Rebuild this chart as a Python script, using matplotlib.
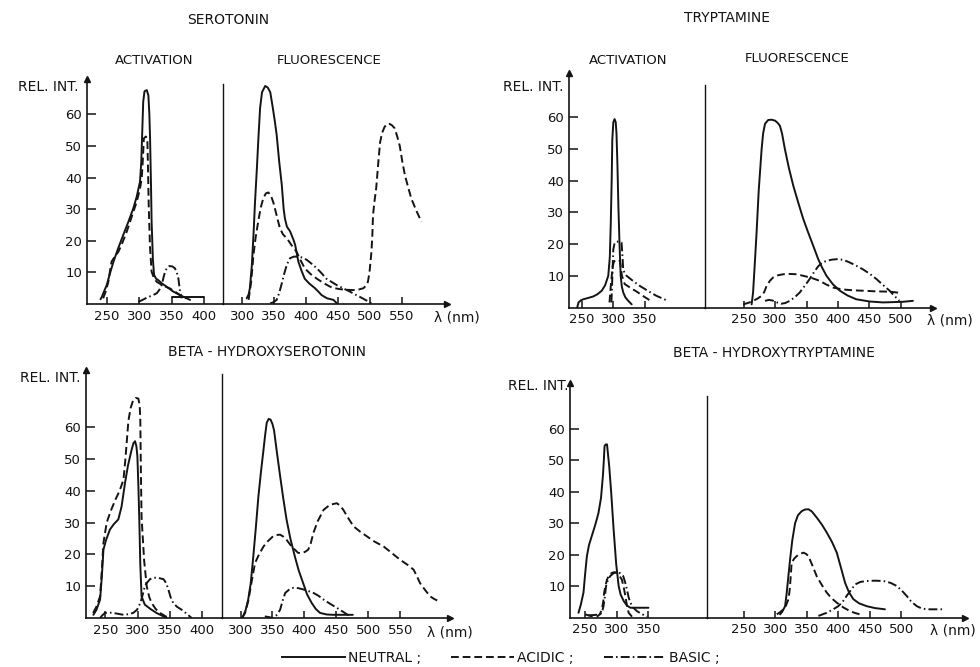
import matplotlib

matplotlib.use("Agg")
import matplotlib.pyplot as plt
from matplotlib.lines import Line2D

W, H = 980, 667
INK = "#141414"

# ---- data: (wavelength nm, relative intensity) ----
SER_ACT_NEUTRAL = [(240, 1.5), (242, 2.3), (249.5, 6), (255, 10), (260, 13.4), (267, 17.5),
                   (275, 21.8), (283, 26), (290.7, 30.3), (296, 34), (301, 38.7), (303, 45),
                   (305, 57.7), (306, 64), (308, 67.3), (311.5, 67.7), (314, 66), (315.5, 60),
                   (316.6, 52.4), (318, 38), (319, 26), (321, 14), (322.8, 9.2), (326, 8),
                   (329, 7.6), (335, 6.5), (342, 5.5), (352, 4), (363, 2.8), (370, 2.1),
                   (378.5, 1.3)]
SER_ACT_NEUTRAL_TAIL = [(350, 2.2), (400, 2.2)]
SER_ACT_ACIDIC = [(244, 1.8), (248, 4), (252, 7), (255, 11), (257, 13.4), (262, 15),
                  (267.5, 16.5), (274, 19.5), (280.5, 22.9), (288, 27.5), (296, 32.4),
                  (301, 36.5), (303.7, 39.8), (305.5, 46), (307, 52.4), (310, 53), (312.4, 52.4),
                  (313.5, 42), (314.5, 31.3), (316.5, 18), (319, 10.2), (323, 8), (327, 7),
                  (337, 5.8), (347.5, 4.9), (356, 3.8), (363, 2.8), (373, 1.8)]
SER_ACT_BASIC = [(298.5, 0.7), (305, 1.3), (311.5, 2), (320, 2.7), (327, 3.4), (331, 4.5),
                 (334.7, 6), (337.5, 8.5), (339.8, 10.2), (343, 11.5), (346.4, 12), (351, 11.9),
                 (355, 11.3), (358, 10), (360.4, 8.1), (362, 5.5), (363, 3.9), (365.6, 1.8)]
SER_FL_NEUTRAL = [(307, 1.8), (310, 3), (312, 5), (315, 12), (317.7, 22), (320, 32), (323, 43),
                  (325.5, 53), (328, 62), (331, 67), (336, 69), (340, 68.5), (344, 67),
                  (348, 62), (351, 58), (354, 53.5), (358, 45), (362, 37.7), (365, 30),
                  (367, 27), (370, 24.5), (375, 23), (380, 20.5), (383, 18.7), (386, 15.5),
                  (388, 13.4), (393, 10.5), (398, 8), (405, 6.5), (414, 5), (419, 4),
                  (424.5, 2.8), (433, 1.8), (443, 1.3), (448, 0.3)]
SER_FL_ACIDIC = [(310, 1.3), (314, 7), (317.6, 15.5), (321, 21), (325, 26), (329, 30.5),
                 (333, 33.4), (337, 35), (341, 35.3), (345, 34.3), (349, 32), (354, 28),
                 (359, 24), (364, 22), (370, 20.8), (377, 18.7), (385, 16.6), (391, 14),
                 (398, 11.3), (407, 9.5), (417, 8), (427, 6.7), (437.5, 5.5), (445, 5),
                 (453, 4.7), (464, 4.5), (474, 4.4), (483, 4.6), (490, 5), (494, 5.8), (497, 7),
                 (499.5, 10), (502.6, 16.6), (504, 22), (505, 28), (507, 32), (510, 36.6),
                 (513, 44), (516, 51), (519, 54), (523, 56), (527, 57), (531, 57), (535, 56.5),
                 (539, 55.6), (543, 53), (547, 50), (551, 45), (555, 40.8), (560, 37),
                 (565, 33.4), (573, 29.5), (581, 26)]
SER_FL_BASIC = [(344, 0.2), (349, 0.6), (354, 1.3), (358, 3.5), (362, 6.5), (365, 9),
                (370, 12.5), (375, 14.5), (381, 15), (388, 15), (394, 14.7), (401, 14),
                (409, 12.7), (417, 11.3), (425, 9.6), (432, 8), (440, 7), (448, 6), (458, 5),
                (469, 3.9), (477, 3), (484, 2.3), (494, 1.2), (503, 0.2)]

TRY_ACT_NEUTRAL = [(243, 0), (245, 1.6), (249, 2.3), (252.7, 2.6), (260, 3), (268.5, 3.5),
                   (275, 4.2), (281.7, 5.3), (287, 7), (292, 10), (294.5, 16), (296, 26.8),
                   (297.4, 40), (298.4, 53), (300, 58.5), (302, 59.5), (303.8, 58.5), (305, 55),
                   (306.5, 45), (308, 32), (309.8, 20), (311.6, 10), (313.5, 6.5), (315.8, 4.7),
                   (319, 3.2), (323.6, 2.1), (329, 1)]
TRY_ACT_ACIDIC = [(294, 1.6), (296, 6.8), (299, 13), (301, 14.5), (304, 15), (308, 15),
                  (310.5, 14.7), (312, 12.5), (313.6, 10), (318, 7.4), (327, 6.2), (337, 5),
                  (348, 3.5), (359, 2.1)]
TRY_ACT_BASIC = [(297, 1.6), (298.5, 10), (300, 18.4), (302, 20.3), (305, 20.8), (309, 20.8),
                 (313, 20.5), (314.5, 16), (315.6, 12), (318, 10.8), (321, 10), (331, 8.4),
                 (342, 6.8), (355, 5.2), (368, 3.7), (377, 2.9), (386, 2.1)]
TRY_FL_NEUTRAL = [(262.7, 1), (265, 4.7), (267.5, 13), (270.6, 23.7), (274, 37), (278.6, 50),
                  (281, 55), (284, 58), (289, 59.2), (294.4, 59.3), (300, 59), (304, 58.3),
                  (307.6, 57.4), (311, 55), (315.6, 50), (322, 44), (329, 38.4), (337, 33),
                  (344.7, 28), (352, 24), (360.6, 19.5), (368.5, 15.3), (375, 12.5),
                  (381.7, 10), (392, 7.3), (403, 5.3), (415, 3.8), (429, 2.6), (450, 1.9),
                  (471.7, 1.6), (503, 1.8), (519, 2.1)]
TRY_FL_ACIDIC = [(249.5, 1), (258, 1.5), (265, 2.1), (272, 2.8), (278.6, 3.7), (283, 5),
                 (286.5, 6.8), (292, 8.5), (297, 9.5), (305, 10.2), (313, 10.5), (323, 10.6),
                 (334, 10.5), (345, 10), (355, 9.5), (363, 9), (371, 8.4), (381, 7.3),
                 (392, 6.3), (402, 5.9), (413, 5.6), (427, 5.4), (440, 5.3), (460, 5.1),
                 (482, 5), (495.5, 4.7)]
TRY_FL_BASIC = [(284, 2.1), (290, 2.4), (296, 2.2), (303, 1.6), (310, 1.2), (316, 1.4),
                (323.5, 2.1), (331, 3.2), (339, 4.7), (347, 6.8), (355, 9), (362, 11.2),
                (368.5, 13), (375, 14.2), (381.7, 14.7), (390, 15.1), (400, 15.3), (409, 15),
                (418.8, 14.2), (429, 13.2), (440, 12), (450, 10.7), (461, 9), (471, 7.2),
                (482, 5.3), (490, 3.6), (497.6, 2.1)]

BHS_ACT_NEUTRAL = [(231.4, 1), (236, 2.5), (241.8, 5.8), (244.5, 13), (247, 21.5), (251, 24.5),
                   (257, 27.8), (263, 29.5), (270, 31), (275, 35), (280.4, 42.5), (285, 48),
                   (290.7, 53), (293.5, 55), (295.9, 55.6), (298, 54), (299.5, 50.9), (301, 42),
                   (302.6, 30), (304, 17), (306, 6.8), (311, 4.2), (320, 2.8), (329, 1.6),
                   (337, 0.8), (345, 0)]
BHS_ACT_ACIDIC = [(231, 1.6), (236, 3.5), (241.8, 6.8), (244.5, 15), (247, 23.6), (252, 30),
                  (258, 33.5), (265, 37), (272, 40), (278, 43.5), (281, 50), (285.6, 62),
                  (289, 66), (293, 68.5), (297, 69.2), (301, 69), (303, 67), (304, 63),
                  (305, 45), (306, 31.6), (310, 18), (314, 9.9), (318, 6.5), (321.6, 4.7),
                  (328, 2.8), (334.5, 1.6), (347.4, 0)]
BHS_ACT_BASIC = [(241.8, 0), (245, 0.8), (249.5, 1.6), (256, 1.7), (262, 1.6), (270, 1.3),
                 (278, 1), (286, 1.2), (293, 1.6), (299, 2.6), (304, 4.7), (308, 7.5),
                 (311, 10), (314, 11), (319, 12.2), (324, 12.7), (332, 12.6), (340, 12.2),
                 (344, 11), (347.4, 9), (351, 6.5), (355, 4.7), (361, 3.5), (368, 2.6),
                 (376, 1.3), (383.5, 0)]
BHS_FL_NEUTRAL = [(303, 0), (308, 2.5), (312, 5.8), (316, 11), (320, 19.4), (324, 28.5),
                  (328, 38.3), (332, 46), (336, 53), (338.5, 57.5), (341, 61.4), (344, 62.6),
                  (347, 62.4), (350, 61), (352.5, 59), (357, 52), (362, 44.6), (367, 37.5),
                  (372, 31), (378, 25), (385, 19.4), (391, 15), (398, 11), (404, 7.5),
                  (411.5, 4.7), (418, 2.8), (424.5, 1.6), (435, 1.1), (445, 1), (475.8, 1)]
BHS_FL_ACIDIC = [(302, 0), (307, 1.5), (312, 5.3), (317, 11), (322.7, 17.3), (329, 20),
                 (336, 22.5), (343, 24.2), (351, 25.7), (356, 26.1), (362, 26.2), (367, 25.6),
                 (372, 24.6), (378, 23), (385, 21.5), (390, 20.5), (396, 20.4), (401, 20.8),
                 (406, 21.5), (410, 23.5), (414, 26.7), (421, 30.5), (430, 34), (440, 35.6),
                 (450.7, 36.1), (456, 35.3), (461, 34), (469, 31.3), (477, 28.8), (487, 27.2),
                 (497.7, 25.7), (510, 24), (524, 22.5), (537, 20.4), (550, 18.3), (561, 16.8),
                 (571, 15.2), (576, 13.2), (581, 11), (589, 8.8), (597, 6.8), (603, 6),
                 (610, 5.3)]
BHS_FL_BASIC = [(338, 0.5), (344, 0.3), (351, 0), (356, 0.8), (362, 2.6), (366, 5.5),
                (370, 7.9), (376, 8.9), (383, 9.5), (390, 9.4), (398, 9), (406, 8.5),
                (414, 7.9), (422, 7), (430, 5.8), (440, 4.5), (450.7, 3.2), (461, 1.9),
                (471.6, 0.5)]

BHT_ACT_NEUTRAL = [(239.4, 1.5), (243, 4), (247.3, 7.9), (250, 14), (252.7, 19.5), (256, 23),
                   (260.6, 26), (266, 29.5), (271, 33.2), (275, 38), (278, 45), (279.5, 50),
                   (280.6, 54.5), (282.5, 55), (284.5, 55), (286, 52), (288, 48), (291, 40),
                   (295, 27.8), (299, 17), (302.9, 10), (306, 7.3), (311, 5.2), (316, 3.8),
                   (321.4, 3.1), (350, 3.1)]
BHT_ACT_ACIDIC = [(250, 1), (258, 0.5), (268.6, 0.25), (273, 1), (276.5, 2.6), (278.5, 5),
                  (280, 7.9), (282, 10), (284.4, 12), (288, 13.5), (292.4, 14.2), (296, 14.4),
                  (300.3, 14.2), (304, 13.3), (308, 12), (311, 9.5), (313.5, 6.8), (316, 3.8),
                  (318.7, 1.5), (324, 0.25)]
BHT_ACT_BASIC = [(255, 0.7), (265, 0.8), (274, 1), (277, 2), (279, 3.6), (281, 6.5), (283, 10),
                 (286, 12), (289.7, 13.2), (295, 14.1), (300.3, 14.4), (305, 14.1), (310, 13.2),
                 (313, 11.3), (316, 8.9), (318.5, 6.5), (321.4, 4.7), (326, 3.1), (332, 2),
                 (340, 1), (348, 0.4)]
BHT_FL_NEUTRAL = [(307.7, 1), (311, 1.8), (315.6, 3.6), (318, 7.5), (320.5, 12.5),
                  (323.5, 18.4), (327, 24.5), (331.5, 30), (336, 32.5), (342, 33.8), (347, 34.3),
                  (352.6, 34.4), (358, 33.7), (366, 31.7), (374, 29.5), (381.7, 27), (390, 24),
                  (397.6, 20.6), (404, 16), (410.8, 11), (417, 8), (424, 5.8), (433, 4.5),
                  (445, 3.6), (458, 3), (474, 2.6)]
BHT_FL_ACIDIC = [(302.4, 1), (307, 1.6), (313, 2.6), (317, 3.8), (321, 5.8), (323, 9),
                 (324.5, 13), (326, 17.4), (330, 18.7), (334, 19.5), (339, 20.2), (344.7, 20.6),
                 (349, 20.2), (352.6, 19.5), (359, 16.5), (366, 13), (374, 10.3), (381.7, 7.9),
                 (389, 6.2), (397.6, 4.7), (408, 3.2), (418.8, 2), (427, 1.4), (434.6, 1)]
BHT_FL_BASIC = [(368.5, 0.5), (375, 1), (381.7, 1.5), (391, 2.5), (400, 3.6), (407, 5),
                (413, 6.8), (420, 8.7), (426.7, 10.5), (435, 11.3), (445, 11.6), (458, 11.7),
                (471.7, 11.6), (483, 11), (492.9, 10), (501, 8.5), (508.7, 6.8), (516, 5),
                (524.6, 3.6), (532, 2.9), (540.5, 2.6), (555, 2.6), (567, 2.6)]

Y_TICKS = [10, 20, 30, 40, 50, 60]
COMPOUNDS = ["SEROTONIN", "TRYPTAMINE", "BETA - HYDROXYSEROTONIN", "BETA - HYDROXYTRYPTAMINE"]
LEGEND_LABELS = ["NEUTRAL ;", "ACIDIC ;", "BASIC ;"]

# ---- styles ----
LW = 1.4
NEUTRAL = dict(color=INK, lw=LW, ls="-")
ACIDIC = dict(color=INK, lw=LW, ls=(0, (4.0, 2.0)))
BASIC = dict(color=INK, lw=LW, ls=(0, (4.6, 1.6, 0.8, 1.6)))
FONT = 9.5

plt.rcParams["font.family"] = ["DejaVu Sans"]


def _fx(x):
    return x / W


def _fy(y):
    return 1.0 - y / H


def _plot(ax, pts, style):
    nm, ri = zip(*pts)
    ax.plot(nm, ri, **style, solid_capstyle="round", solid_joinstyle="round")


def _style_axis(ax):
    for side in ("top", "right"):
        ax.spines[side].set_visible(False)
    for side in ("left", "bottom"):
        ax.spines[side].set_linewidth(1.2)
        ax.spines[side].set_color(INK)
    ax.set_facecolor("none")
    ax.tick_params(axis="x", direction="in", length=5, width=1.1, pad=4,
                   labelsize=FONT, colors=INK)
    ax.tick_params(axis="y", direction="in", length=6.5, width=1.1, pad=3.5,
                   labelsize=FONT, colors=INK)


def draw_compound(fig, g, act_series, fl_series):
    ytop = (g["zero"] - g["top"]) / g["ppu"]
    bottom = _fy(g["zero"])
    height = (g["zero"] - g["top"]) / H

    ax_a = fig.add_axes([_fx(g["yaxis"]), bottom, (g["divider"] - g["yaxis"]) / W, height])
    ax_f = fig.add_axes([_fx(g["divider"]), bottom, (g["xend"] - g["divider"]) / W, height])

    for ax, series, lim, ticks in ((ax_a, act_series, g["act_lim"], g["act_ticks"]),
                                   (ax_f, fl_series, g["fl_lim"], g["fl_ticks"])):
        for pts, style in series:
            _plot(ax, pts, style)
        ax.set_xlim(*lim)
        ax.set_ylim(0, ytop)
        ax.set_xticks(ticks)
        _style_axis(ax)

    ax_a.set_yticks(Y_TICKS)
    ax_a.plot(0, 1, marker="^", ms=5, color=INK, transform=ax_a.transAxes, clip_on=False)

    ax_f.set_yticks([])
    ax_f.spines["left"].set_bounds(0, g["div_top"])
    ax_f.spines["left"].set_linewidth(1.0)
    ax_f.plot(1, 0, marker=">", ms=5, color=INK, transform=ax_f.transAxes, clip_on=False)

    fig.text(_fx(g["title"][0]), _fy(g["title"][1]), g["name"], ha="center", va="center",
             fontsize=10, color=INK)
    if g.get("sub"):
        fig.text(_fx(g["sub"][0][0]), _fy(g["sub"][0][1]), "ACTIVATION", ha="center",
                 va="center", fontsize=FONT, color=INK)
        fig.text(_fx(g["sub"][1][0]), _fy(g["sub"][1][1]), "FLUORESCENCE", ha="center",
                 va="center", fontsize=FONT, color=INK)
    fig.text(_fx(g["relint"][0]), _fy(g["relint"][1]), "REL. INT.", ha="right", va="center",
             fontsize=10, color=INK)
    fig.text(_fx(g["lam"][0]), _fy(g["lam"][1]), "λ (nm)", ha="right", va="center",
             fontsize=10, color=INK)


GEOM = [
    dict(name=COMPOUNDS[0], yaxis=87, divider=222.7, xend=447, zero=304, top=79, ppu=3.16,
         act_lim=(219, 429), fl_lim=(269.4, 621), act_ticks=[250, 300, 350, 400],
         fl_ticks=[300, 350, 400, 450, 500, 550], div_top=69.6,
         title=(228, 20), sub=((154, 60), (329, 60)), relint=(78, 87), lam=(480, 318)),
    dict(name=COMPOUNDS[1], yaxis=569, divider=705, xend=933, zero=307.5, top=73, ppu=3.167,
         act_lim=(230, 444.8), fl_lim=(188.6, 551), act_ticks=[250, 300, 350],
         fl_ticks=[250, 300, 350, 400, 450, 500], div_top=70.3,
         title=(727, 18), sub=((628, 60), (797, 58)), relint=(563, 87), lam=(973, 320)),
    dict(name=COMPOUNDS[2], yaxis=86, divider=221.7, xend=450, zero=618, top=370, ppu=3.18,
         act_lim=(220, 430), fl_lim=(270.5, 628), act_ticks=[250, 300, 350, 400],
         fl_ticks=[300, 350, 400, 450, 500, 550], div_top=76.6,
         title=(267, 352), sub=None, relint=(80, 378), lam=(473, 632)),
    dict(name=COMPOUNDS[3], yaxis=570, divider=707.3, xend=965, zero=617.5, top=383, ppu=3.147,
         act_lim=(226, 443), fl_lim=(192.2, 601), act_ticks=[250, 300, 350],
         fl_ticks=[250, 300, 350, 400, 450, 500], div_top=70.5,
         title=(774, 353), sub=None, relint=(568, 386), lam=(976, 630)),
]

SERIES = [
    ([(SER_ACT_NEUTRAL, NEUTRAL), (SER_ACT_NEUTRAL_TAIL, NEUTRAL), (SER_ACT_ACIDIC, ACIDIC),
      (SER_ACT_BASIC, BASIC)],
     [(SER_FL_NEUTRAL, NEUTRAL), (SER_FL_ACIDIC, ACIDIC), (SER_FL_BASIC, BASIC)]),
    ([(TRY_ACT_NEUTRAL, NEUTRAL), (TRY_ACT_ACIDIC, ACIDIC), (TRY_ACT_BASIC, BASIC)],
     [(TRY_FL_NEUTRAL, NEUTRAL), (TRY_FL_ACIDIC, ACIDIC), (TRY_FL_BASIC, BASIC)]),
    ([(BHS_ACT_NEUTRAL, NEUTRAL), (BHS_ACT_ACIDIC, ACIDIC), (BHS_ACT_BASIC, BASIC)],
     [(BHS_FL_NEUTRAL, NEUTRAL), (BHS_FL_ACIDIC, ACIDIC), (BHS_FL_BASIC, BASIC)]),
    ([(BHT_ACT_NEUTRAL, NEUTRAL), (BHT_ACT_ACIDIC, ACIDIC), (BHT_ACT_BASIC, BASIC)],
     [(BHT_FL_NEUTRAL, NEUTRAL), (BHT_FL_ACIDIC, ACIDIC), (BHT_FL_BASIC, BASIC)]),
]

fig = plt.figure(figsize=(W / 100, H / 100), dpi=100, facecolor="white")

for g, (act, fl) in zip(GEOM, SERIES):
    draw_compound(fig, g, act, fl)

handles = [Line2D([], [], **NEUTRAL), Line2D([], [], **ACIDIC), Line2D([], [], **BASIC)]
fig.legend(handles, LEGEND_LABELS, loc="center", bbox_to_anchor=(_fx(501), _fy(658)),
           ncol=3, frameon=False, handlelength=4.5, handletextpad=0.2, columnspacing=2.2,
           fontsize=10, labelcolor=INK)

fig.savefig("out.png", dpi=100, facecolor="white")
